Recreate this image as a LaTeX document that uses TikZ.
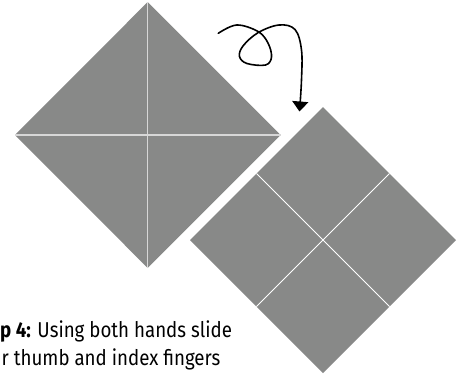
\documentclass[tikz,border=0pt]{standalone}
\usepackage{fontspec}
\setmainfont{Fira Sans}[FakeStretch=0.87]
\usetikzlibrary{arrows.meta,calc}
\definecolor{paper}{RGB}{136,137,136}
\definecolor{creaseA}{RGB}{215,215,215}
\tikzset{
  sheet/.style={fill=paper, draw=none},
  crease/.style={draw=white, line width=0.9pt},
  creaseL/.style={draw=creaseA, line width=1.1pt},
  turn/.style={draw=black, line width=1.6pt, line cap=round, -{Triangle[width=16pt,length=10pt]}},
  caption/.style={anchor=base west, inner sep=0pt, font=\fontsize{21.5pt}{28.5pt}\selectfont, align=left}
}
\begin{document}
\begin{tikzpicture}[x=1pt,y=-1pt]
\useasboundingbox (0,0) rectangle (467,378);
% left diamond
\coordinate (lt) at (147.7,2);
\coordinate (ll) at (15,135);
\coordinate (lr) at (280.5,135);
\coordinate (lb) at (147.7,268);
\fill[sheet] (lt) -- (lr) -- (lb) -- (ll) -- cycle;
\draw[creaseL] (ll) -- (lr);
\draw[creaseL] (lt) -- (lb);
% right diamond
\coordinate (rt) at (323,107);
\coordinate (rr) at (456,240);
\coordinate (rb) at (323,373);
\coordinate (rl) at (190,240);
\fill[sheet] (rt) -- (rr) -- (rb) -- (rl) -- cycle;
\draw[crease] ($(rt)!0.5!(rl)$) -- ($(rr)!0.5!(rb)$);
\draw[crease] ($(rt)!0.5!(rr)$) -- ($(rl)!0.5!(rb)$);
% turn-over arrow
\draw[turn] plot[smooth, tension=0.6] coordinates {(218.3,33.3) (236.7,25) (258,31.5) (268,43) (271.5,57) (265.5,65) (247,63.5) (239.5,56.5) (243,46) (258,32.7) (279,25) (295,29.5) (301.5,50) (301.5,80) (299.5,111.5)};
% caption
\node[caption] (cap1) at (0,337) {\textbf{p 4:} Using both hands slide};
\node[caption] (cap2) at (1.5,365.5) {r thumb and index fingers};
\end{tikzpicture}
\end{document}
